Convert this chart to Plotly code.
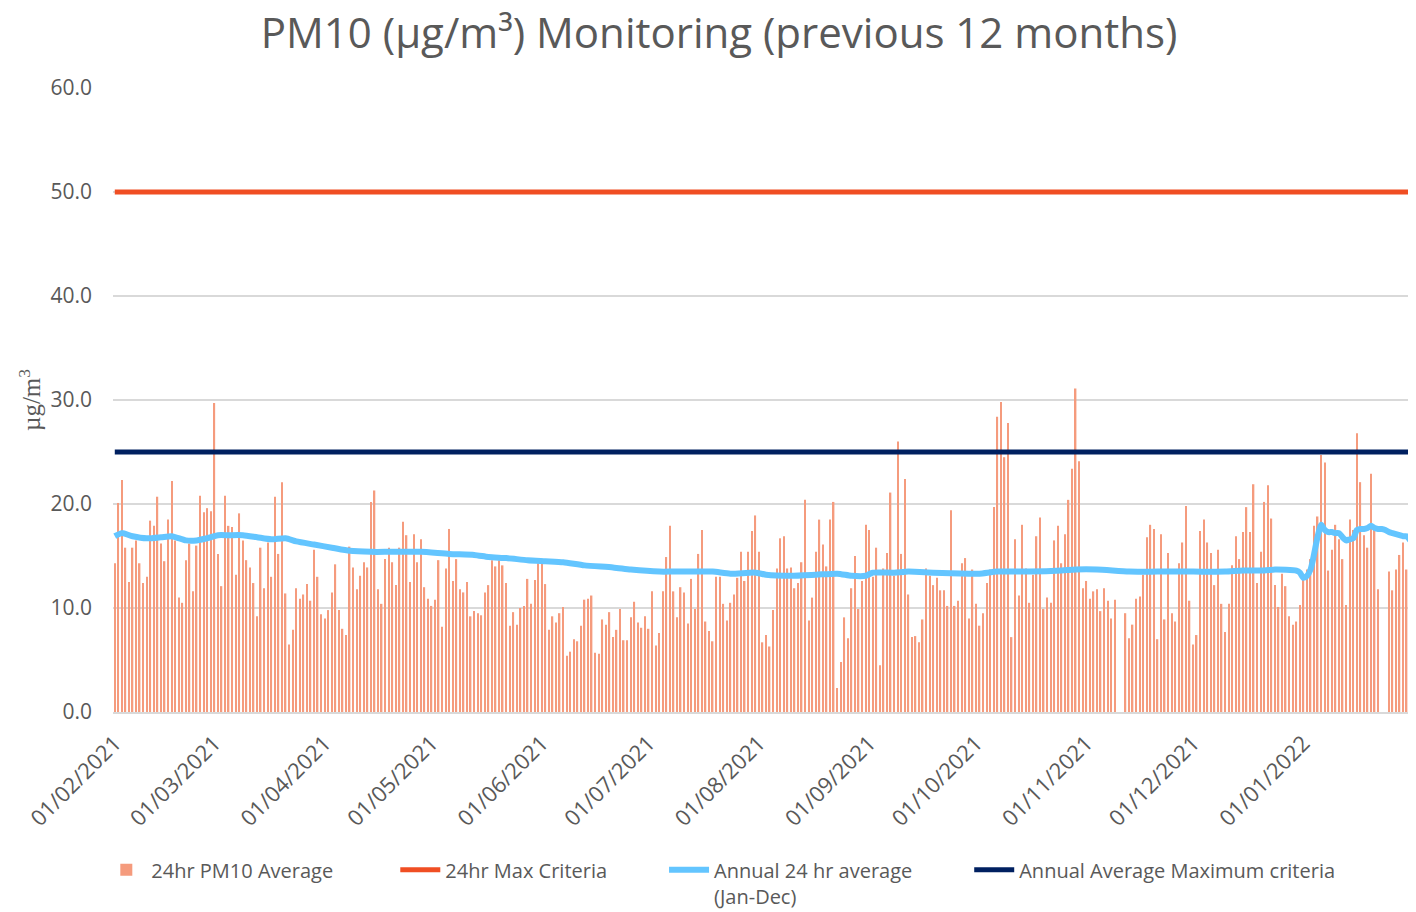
import pandas as pd
import plotly.graph_objects as go

# ---------------- data ----------------
start_date = "2021-02-01"
n_days = 365

pm10_daily = [
    # Feb 1 - Mar 13
    14.3, 20.1, 22.3, 15.8, 12.5, 15.8, 16.5, 14.3, 12.4, 13.0, 18.4, 17.9, 20.7, 16.2, 14.5, 18.5, 22.2, 16.5, 11.0, 10.5,
    14.6, 16.2, 11.6, 16.0, 20.8, 19.2, 19.6, 19.3, 29.7, 15.2, 12.1, 20.8, 17.9, 17.8, 13.2, 19.1, 16.5, 14.6, 13.9, 12.4, 9.2,
    # Mar 14 - Apr 23
    15.8, 11.9, 16.3, 13.0, 20.7, 15.2, 22.1, 11.4, 6.5, 7.9, 11.9, 10.9, 11.3, 12.3, 10.7, 15.6, 13.0, 9.4, 9.0, 9.8,
    11.5, 14.2, 9.8, 8.0, 7.4, 15.9, 13.9, 11.8, 13.1, 14.4, 13.9, 20.2, 21.3, 11.8, 10.4, 14.7, 15.8, 14.4, 12.2, 15.8, 18.3,
    # Apr 24 - Jun 2
    17.0, 12.5, 17.1, 14.4, 16.6, 12.0, 10.9, 10.2, 10.8, 14.6, 8.2, 13.8, 17.6, 12.6, 14.7, 11.8, 11.5, 12.5, 9.2, 9.7,
    9.5, 9.3, 11.5, 12.2, 14.6, 14.0, 14.6, 14.1, 12.4, 8.3, 9.6, 8.4, 10.0, 10.2, 12.8, 10.4, 12.7, 14.3, 14.3, 12.3,
    # Jun 3 - Jul 13
    7.9, 9.2, 8.6, 9.5, 10.1, 5.4, 5.8, 7.0, 6.8, 8.3, 10.8, 10.9, 11.2, 5.7, 5.6, 8.9, 8.4, 9.6, 7.2, 7.9,
    9.9, 6.9, 6.9, 9.1, 10.6, 8.6, 8.1, 9.2, 8.0, 11.6, 6.4, 7.6, 11.6, 14.9, 17.9, 11.6, 9.1, 12.0, 11.5, 8.5, 12.8,
    # Jul 14 - Aug 23
    9.9, 15.2, 17.5, 8.7, 7.8, 6.8, 13.0, 13.0, 10.4, 8.8, 10.5, 11.3, 12.9, 15.4, 12.6, 15.4, 17.4, 18.9, 15.4, 6.7,
    7.4, 6.3, 9.8, 13.8, 16.7, 16.9, 13.8, 13.9, 11.9, 12.4, 14.4, 20.4, 8.8, 11.0, 15.4, 18.5, 16.1, 14.0, 18.5, 20.2, 2.3,
    # Aug 24 - Oct 3
    4.8, 9.1, 7.1, 11.9, 15.0, 9.9, 12.6, 18.0, 17.5, 13.0, 15.8, 4.5, 13.8, 15.3, 21.1, 13.1, 26.0, 15.2, 22.4, 11.3,
    7.2, 7.3, 6.7, 8.9, 13.8, 13.1, 12.2, 12.9, 11.7, 11.7, 10.2, 19.4, 10.2, 10.7, 14.3, 14.8, 9.0, 13.7, 10.4, 8.3, 9.5,
    # Oct 4 - Nov 13
    12.4, 13.7, 19.7, 28.4, 29.8, 24.5, 27.8, 7.2, 16.6, 11.2, 18.0, 13.8, 10.5, 13.2, 16.9, 18.7, 9.9, 11.0, 10.5, 16.5,
    17.9, 14.3, 17.1, 20.4, 23.4, 31.1, 24.1, 11.9, 12.6, 10.9, 11.6, 11.8, 9.7, 11.9, 10.7, 9.0, 10.8, None, None, 9.5, 7.1,
    # Nov 14 - Dec 24
    8.4, 10.9, 11.1, 13.2, 16.8, 18.0, 17.6, 7.0, 17.1, 8.9, 15.3, 9.5, 8.7, 14.3, 16.3, 19.8, 10.7, 6.5, 7.4, 17.4,
    18.5, 16.3, 15.3, 12.2, 15.6, 10.4, 7.7, 10.4, 14.1, 16.9, 14.7, 17.3, 19.7, 17.3, 21.9, 12.4, 15.4, 20.2, 21.8, 18.6, 12.2,
    # Dec 25 - Jan 31
    10.1, 13.3, 12.1, 9.2, 8.4, 8.7, 10.3, 12.9, 13.7, 14.7, 17.9, 18.8, 24.7, 24.0, 13.6, 15.6, 18.0, 16.6, 14.7, 10.3,
    18.5, 17.5, 26.8, 22.1, 17.0, 15.8, 22.9, 17.9, 11.8, None, None, 13.5, 11.7, 13.7, 15.1, 16.3, 13.7, 9.5,
]

annual_avg_dates = [
    "2021-02-01", "2021-02-03", "2021-02-06", "2021-02-10", "2021-02-14", "2021-02-17", "2021-02-21", "2021-02-24",
    "2021-02-28", "2021-03-02", "2021-03-05", "2021-03-09", "2021-03-13", "2021-03-17", "2021-03-21", "2021-03-24",
    "2021-03-29", "2021-04-03", "2021-04-08", "2021-04-14", "2021-04-19", "2021-04-23", "2021-04-28", "2021-05-06",
    "2021-05-13", "2021-05-17", "2021-05-22", "2021-05-28", "2021-06-02", "2021-06-07", "2021-06-13", "2021-06-21",
    "2021-06-26", "2021-07-04", "2021-07-08", "2021-07-14", "2021-07-19", "2021-07-24", "2021-07-31", "2021-08-03",
    "2021-08-10", "2021-08-17", "2021-08-23", "2021-08-27", "2021-08-31", "2021-09-02", "2021-09-08", "2021-09-12",
    "2021-09-19", "2021-09-29", "2021-10-02", "2021-10-07", "2021-10-16", "2021-10-25", "2021-10-29", "2021-11-04",
    "2021-11-13", "2021-11-21", "2021-12-01", "2021-12-10", "2021-12-15", "2021-12-21", "2021-12-24", "2021-12-30",
    "2021-12-31",
    "2022-01-01", "2022-01-02", "2022-01-03", "2022-01-04", "2022-01-05", "2022-01-06", "2022-01-07", "2022-01-08",
    "2022-01-09", "2022-01-10", "2022-01-11", "2022-01-12", "2022-01-13", "2022-01-14", "2022-01-15", "2022-01-16",
    "2022-01-17", "2022-01-18", "2022-01-19", "2022-01-20", "2022-01-21", "2022-01-22", "2022-01-23", "2022-01-24",
    "2022-01-25", "2022-01-26", "2022-01-27", "2022-01-28", "2022-01-29", "2022-01-30", "2022-01-31",
]
annual_avg_values = [
    16.9, 17.2, 16.9, 16.7, 16.8, 16.9, 16.5, 16.5,
    16.8, 17.0, 17.0, 17.0, 16.8, 16.6, 16.7, 16.4,
    16.1, 15.8, 15.5, 15.4, 15.4, 15.4, 15.4, 15.2,
    15.1, 14.9, 14.8, 14.6, 14.5, 14.4, 14.1, 13.9,
    13.7, 13.5, 13.5, 13.5, 13.5, 13.3, 13.4, 13.2,
    13.1, 13.2, 13.3, 13.1, 13.1, 13.4, 13.4, 13.5,
    13.4, 13.3, 13.3, 13.5, 13.5, 13.6, 13.7, 13.7,
    13.5, 13.5, 13.5, 13.5, 13.6, 13.6, 13.7, 13.6,
    13.4,
    12.9, 13.1, 13.7, 15.2, 16.9, 18.0, 17.5, 17.3,
    17.3, 17.2, 17.2, 16.8, 16.5, 16.6, 16.7, 17.5,
    17.6, 17.6, 17.7, 17.9, 17.7, 17.6, 17.6, 17.5,
    17.3, 17.2, 17.1, 17.0, 16.9, 16.9, 16.5,
]

max_24hr_criteria = 50.0
annual_max_criteria = 25.0

y_ticks = [0, 10, 20, 30, 40, 50, 60]

# ---------------- figure ----------------
dates = pd.date_range(start_date, periods=n_days, freq="D")
text_color = "#595959"
font_family = "Open Sans"
NB = "\u00a0"

fig = go.Figure()

fig.add_trace(go.Bar(
    x=dates, y=pm10_daily, name="24hr PM10 Average" + NB * 11,
    marker=dict(color="#F59B7D", line=dict(width=0)),
))
fig.add_trace(go.Scatter(
    x=[dates[0], dates[-1]], y=[max_24hr_criteria, max_24hr_criteria],
    mode="lines", name="24hr Max Criteria" + NB * 10,
    line=dict(color="#F04E23", width=5),
))
fig.add_trace(go.Scatter(
    x=pd.to_datetime(annual_avg_dates), y=annual_avg_values,
    mode="lines", name="Annual 24 hr average" + NB * 10 + "<br>(Jan-Dec)",
    line=dict(color="#63C5FF", width=6, shape="spline", smoothing=0.6),
))
fig.add_trace(go.Scatter(
    x=[dates[0], dates[-1]], y=[annual_max_criteria, annual_max_criteria],
    mode="lines", name="Annual Average Maximum criteria",
    line=dict(color="#002060", width=5),
))

# page body adds an 8px offset; figure is sized to compensate
fig.update_layout(
    width=1408, height=904,
    paper_bgcolor="white", plot_bgcolor="white",
    margin=dict(l=105, r=4, t=80, b=200, autoexpand=False),
    bargap=0.6,
    showlegend=True,
    font=dict(family=font_family, color=text_color, size=20),
    title=dict(
        text="PM10 (µg/m³) Monitoring (previous 12 months)",
        x=0.505, xref="container", xanchor="center",
        y=0.972, yref="container", yanchor="middle",
        font=dict(family=font_family, size=42, color=text_color),
    ),
    legend=dict(
        orientation="h", x=-0.009, xanchor="left", xref="paper",
        y=-0.2215, yanchor="top", yref="paper",
        font=dict(family=font_family, size=20, color=text_color),
        itemwidth=40,
        traceorder="normal", valign="top",
        bgcolor="rgba(0,0,0,0)",
    ),
    xaxis=dict(
        type="date",
        range=[dates[0] - pd.Timedelta(hours=12), dates[-1] + pd.Timedelta(hours=12)],
        tickmode="array",
        tickvals=pd.date_range(start_date, periods=12, freq="MS"),
        tickformat="%d/%m/%Y",
        tickangle=-45,
        tickfont=dict(size=22, color=text_color, family=font_family),
        showgrid=False,
        showline=True, linecolor="#D9D9D9", linewidth=1.5,
        ticks="", ticklabelstandoff=8,
        zeroline=False,
    ),
    yaxis=dict(
        range=[0, 60],
        tickmode="array", tickvals=y_ticks,
        tickformat=".1f",
        tickfont=dict(size=21, color=text_color, family=font_family),
        showgrid=True, gridcolor="#D9D9D9", gridwidth=1.5,
        zeroline=False,
        ticks="", ticklabelstandoff=20,
    ),
    annotations=[dict(
        text="µg/m<sup>3</sup>", textangle=-90,
        xref="paper", yref="paper",
        x=-0.0639, y=0.5, xanchor="center", yanchor="middle",
        showarrow=False,
        font=dict(family="Liberation Serif", size=25, color=text_color),
    )],
)

fig.write_html("out.html")
